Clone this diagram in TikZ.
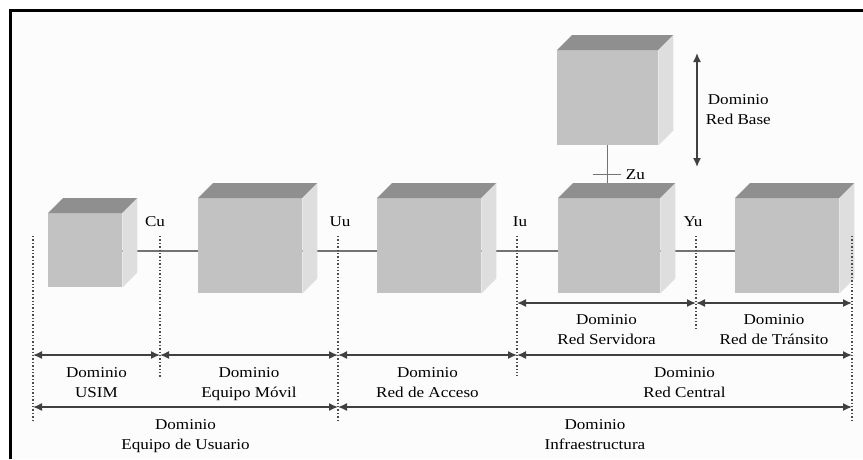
\documentclass[tikz,border=0pt]{standalone}
\usepackage{fontspec}
\setmainfont{Liberation Serif}[FakeStretch=1.14]
\usetikzlibrary{arrows.meta}
\definecolor{frente}{HTML}{C2C2C2}
\definecolor{tapa}{HTML}{8F8F8F}
\definecolor{lado}{HTML}{DEDEDE}
\definecolor{fondo}{HTML}{FBFCFB}
\begin{document}
\begin{tikzpicture}
    [x=1pt,y=-1pt,
    cubo/.style={rectangle,fill=frente,inner sep=0pt,anchor=north west},
    enlace/.style={draw=black!55,line width=1.5pt},
    limite/.style={draw=black!70,dotted,line width=1.4pt},
    cota/.style={draw=black!75,line width=1.5pt,{Latex[length=9pt,width=8pt]}-{Latex[length=9pt,width=8pt]}},
    texto/.style={font=\fontsize{15}{20}\selectfont,align=center,inner sep=1pt}]
    \useasboundingbox (0,0) rectangle (863,459);
    \fill[fondo] (10,10) rectangle (863,459);
    \draw[line width=3pt] (10.5,459) -- (10.5,10.5) -- (863,10.5);
    % cajas
    \node[cubo,minimum width=74pt,minimum height=74pt] (usim) at (48,213) {};
    \node[cubo,minimum width=104pt,minimum height=95pt] (movil) at (198,198) {};
    \node[cubo,minimum width=104pt,minimum height=95pt] (acceso) at (377,198) {};
    \node[cubo,minimum width=102pt,minimum height=95pt] (servidora) at (558,198) {};
    \node[cubo,minimum width=104pt,minimum height=95pt] (transito) at (735,198) {};
    \node[cubo,minimum width=101pt,minimum height=95pt] (base) at (557,50) {};
    \coordinate (bus) at (0,251);
    \draw[enlace] (usim.east |- bus) -- (movil.west |- bus);
    \draw[enlace] (movil.east |- bus) -- (acceso.west |- bus);
    \draw[enlace] (acceso.east |- bus) -- (servidora.west |- bus);
    \draw[enlace] (servidora.east |- bus) -- (transito.west |- bus);
    \draw[enlace] (base.south) -- (base.south |- servidora.north) coordinate[pos=0.55] (zu);
    \draw[enlace,line width=1.3pt] (zu) +(-15,0) -- +(13,0);
    \node[texto,anchor=west] (zulbl) at ([xshift=17pt]zu) {Zu};
    \foreach \b in {usim,movil,acceso,servidora,transito,base} {
      \fill[tapa] (\b.north west) -- ++(15,-15) -- ([shift={(15,-15)}]\b.north east) -- (\b.north east) -- cycle;
      \fill[lado] (\b.south east) -- ++(15,-15) -- ([shift={(15,-15)}]\b.north east) -- (\b.north east) -- cycle;
    }
    % interfaces
    \node[texto] (cu) at (155,222) {Cu};
    \node[texto] (uu) at (340,222) {Uu};
    \node[texto] (iu) at (520,222) {Iu};
    \node[texto] (yu) at (693,222) {Yu};
    % limites de dominio
    \coordinate (l0) at (33,236);
    \coordinate (l1) at (160,236);
    \coordinate (l2) at (338,236);
    \coordinate (l3) at (517,236);
    \coordinate (l4) at (696,236);
    \coordinate (l5) at (852,236);
    \draw[limite] (l0) -- ++(0,186);
    \draw[limite] (l1) -- ++(0,141);
    \draw[limite] (l2) -- ++(0,186);
    \draw[limite] (l3) -- ++(0,140);
    \draw[limite] (l4) -- ++(0,94);
    \draw[limite] (l5) -- ++(0,186);
    \coordinate (ra) at (0,303);
    \coordinate (rb) at (0,355);
    \coordinate (rc) at (0,407);
    \draw[cota] (l3 |- ra) -- (l4 |- ra) node[texto,midway,below=10pt] (dserv) {Dominio\\Red Servidora};
    \draw[cota] (l4 |- ra) -- (l5 |- ra) node[texto,midway,below=10pt] (dtran) {Dominio\\Red de Tránsito};
    \draw[cota] (l0 |- rb) -- (l1 |- rb) node[texto,midway,below=11pt] (dusim) {Dominio\\USIM};
    \draw[cota] (l1 |- rb) -- (l2 |- rb) node[texto,midway,below=11pt] (dmovil) {Dominio\\Equipo Móvil};
    \draw[cota] (l2 |- rb) -- (l3 |- rb) node[texto,midway,below=11pt] (dacc) {Dominio\\Red de Acceso};
    \draw[cota] (l3 |- rb) -- (l5 |- rb) node[texto,midway,below=11pt] (dcent) {Dominio\\Red Central};
    \draw[cota] (l0 |- rc) -- (l2 |- rc) node[texto,midway,below=11pt] (dusu) {Dominio\\Equipo de Usuario};
    \draw[cota] (l2 |- rc) -- (l5 |- rc) node[texto,midway,below=11pt] (dinf) {Dominio\\Infraestructura};
    % red base
    \coordinate (rb1) at (697,53);
    \coordinate (rb2) at (697,167);
    \draw[cota] (rb1) -- (rb2) node[texto,midway,right=7pt] (dbase) {Dominio\\Red Base};
\end{tikzpicture}
\end{document}
